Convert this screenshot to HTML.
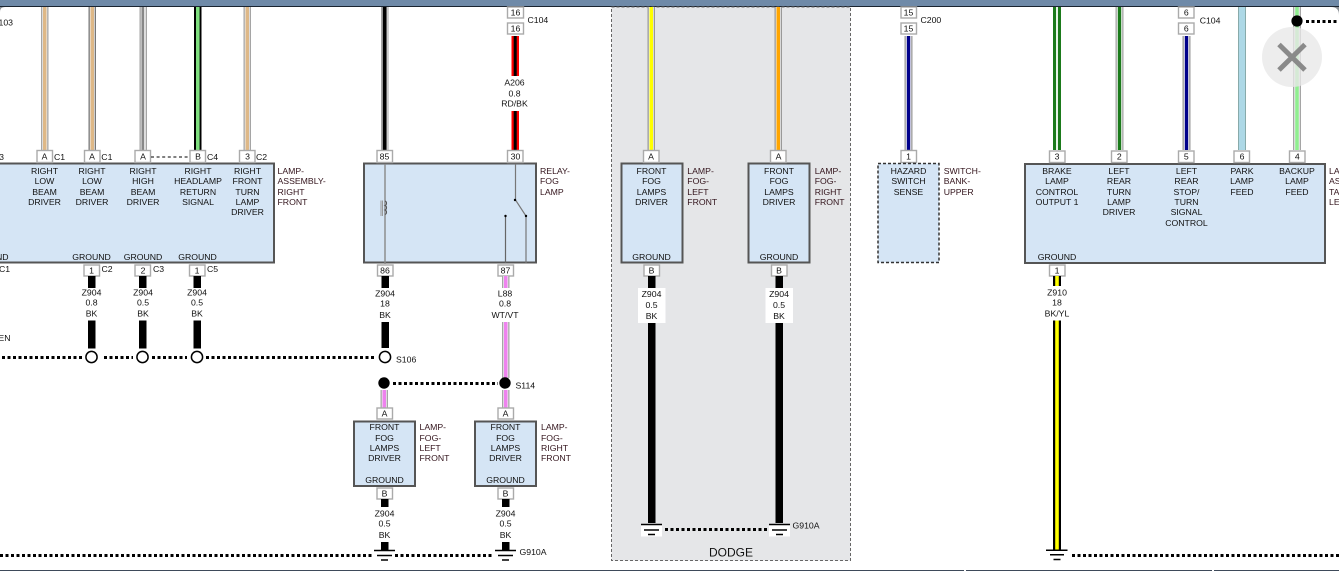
<!DOCTYPE html>
<html><head><meta charset="utf-8"><style>
html,body{margin:0;padding:0;background:#fff;width:1339px;height:571px;overflow:hidden}
svg{display:block}
text{font-family:"Liberation Sans",Arial,sans-serif;font-size:8.7px;fill:#111;text-anchor:middle}
.l{text-anchor:start}
.n{text-anchor:start;fill:#33141c}
.e{text-anchor:end}
.b{fill:#fff;stroke:#aaa;stroke-width:1.4}
.m{fill:#d5e5f5;stroke:#555;stroke-width:2}
.k{fill:#000}
.g{fill:#a5a5a5}
.w{fill:#f4f4f4}
.d{stroke:#000;stroke-width:3;stroke-dasharray:3 2.5;fill:none;shape-rendering:crispEdges}
.o{fill:#fff;stroke:#000;stroke-width:1.5}
</style></head><body>
<svg width="1339" height="571" viewBox="0 0 1339 571" xmlns="http://www.w3.org/2000/svg">
<rect x="0" y="0" width="1339" height="7" fill="#6f8aa8"/>
<rect x="0" y="6" width="1339" height="1" fill="#1a2430"/>
<path d="M0 7h5q-5 0-5 5zM1339 7h-8q8 0 8 8z" fill="#1a2430" opacity=".5"/>
<rect x="0" y="570" width="1339" height="1" fill="#3e4a5a"/>
<rect x="964" y="570" width="2" height="1" fill="#fff"/>
<rect x="1212" y="570" width="2" height="1" fill="#fff"/>

<!-- Dodge region -->
<rect x="611.5" y="7" width="239" height="553.5" fill="#e5e6e8" stroke="#666" stroke-width="1" stroke-dasharray="3 2"/>
<text x="731" y="556.5" style="font-size:12px">DODGE</text>

<!-- left wires -->
<rect x="41" y="7" width="7.5" height="143" class="g"/><rect x="42.3" y="7" width="4.9" height="143" class="w"/><rect x="43" y="7" width="3.5" height="143" fill="#deb887"/>
<rect x="88.5" y="7" width="7.5" height="143" fill="#777"/><rect x="89.8" y="7" width="4.9" height="143" class="w"/><rect x="90.5" y="7" width="3.5" height="143" fill="#deb887"/>
<rect x="139.5" y="7" width="7.5" height="143" class="g"/><rect x="140.8" y="7" width="4.9" height="143" class="w"/><rect x="141.5" y="7" width="2.7" height="143" fill="#888"/>
<rect x="194" y="7" width="7.5" height="143" class="k"/><rect x="196" y="7" width="3.6" height="143" fill="#7fdf7f"/>
<rect x="243.5" y="7" width="7.5" height="143" class="g"/><rect x="244.8" y="7" width="4.9" height="143" class="w"/><rect x="245.5" y="7" width="3.5" height="143" fill="#deb887"/>

<!-- left module -->
<rect x="-5" y="163.5" width="279" height="99" class="m"/>
<rect x="37" y="150.5" width="15.5" height="12" class="b"/><text x="44.5" y="159.5">A</text><text x="54" y="160" class="l">C1</text>
<rect x="84.5" y="150.5" width="15.5" height="12" class="b"/><text x="92" y="159.5">A</text><text x="101.3" y="160" class="l">C1</text>
<rect x="135" y="150.5" width="15.5" height="12" class="b"/><text x="143" y="159.5">A</text>
<path d="M151 157H189" stroke="#000" stroke-dasharray="3 2.6" fill="none"/>
<rect x="190" y="150.5" width="15.5" height="12" class="b"/><text x="198" y="159.5">B</text><text x="207" y="160" class="l">C4</text>
<rect x="239.5" y="150.5" width="15.5" height="12" class="b"/><text x="247.5" y="159.5">3</text><text x="256" y="160" class="l">C2</text>
<text x="4" y="160" class="e">3</text>
<text x="13" y="25.5" class="e">103</text>
<text x="44.5" y="174">RIGHT</text><text x="44.5" y="184">LOW</text><text x="44.5" y="195">BEAM</text><text x="44.5" y="205">DRIVER</text>
<text x="92" y="174">RIGHT</text><text x="92" y="184">LOW</text><text x="92" y="195">BEAM</text><text x="92" y="205">DRIVER</text>
<text x="143" y="174">RIGHT</text><text x="143" y="184">HIGH</text><text x="143" y="195">BEAM</text><text x="143" y="205">DRIVER</text>
<text x="198" y="174">RIGHT</text><text x="198" y="184">HEADLAMP</text><text x="198" y="195">RETURN</text><text x="198" y="205">SIGNAL</text>
<text x="247.5" y="174">RIGHT</text><text x="247.5" y="184">FRONT</text><text x="247.5" y="195">TURN</text><text x="247.5" y="205">LAMP</text><text x="247.5" y="215">DRIVER</text>
<text x="277.5" y="174" class="n">LAMP-</text><text x="277.5" y="184" class="n">ASSEMBLY-</text><text x="277.5" y="195" class="n">RIGHT</text><text x="277.5" y="205" class="n">FRONT</text>
<text x="8.5" y="260" class="e">ND</text><text x="91.5" y="260">GROUND</text><text x="143" y="260">GROUND</text><text x="197.5" y="260">GROUND</text>
<text x="-1" y="272" class="l">C1</text>
<rect x="84" y="265" width="15.5" height="11" class="b"/><text x="91.5" y="273.5">1</text><text x="101.5" y="272" class="l">C2</text>
<rect x="135" y="265" width="15.5" height="11" class="b"/><text x="143" y="273.5">2</text><text x="153" y="272" class="l">C3</text>
<rect x="189.5" y="265" width="15.5" height="11" class="b"/><text x="197" y="273.5">1</text><text x="207" y="272" class="l">C5</text>
<rect x="88" y="276" width="7.5" height="12" class="k"/><rect x="139" y="276" width="7.5" height="12" class="k"/><rect x="193.5" y="276" width="7.5" height="12" class="k"/>
<text x="91.5" y="295.5">Z904</text><text x="91.5" y="305.5">0.8</text><text x="91.5" y="316.5">BK</text>
<text x="143" y="295.5">Z904</text><text x="143" y="305.5">0.5</text><text x="143" y="316.5">BK</text>
<text x="197" y="295.5">Z904</text><text x="197" y="305.5">0.5</text><text x="197" y="316.5">BK</text>
<rect x="88" y="320.5" width="7.5" height="28" class="k"/><rect x="139" y="320.5" width="7.5" height="28" class="k"/><rect x="193.5" y="320.5" width="7.5" height="28" class="k"/>
<text x="10.5" y="341" class="e">EN</text>
<path d="M2 357.5H82M104 357.5H133M152 357.5H187M206 357.5H376" class="d"/>
<circle cx="91.5" cy="357" r="5.6" class="o"/><circle cx="142.5" cy="357" r="5.6" class="o"/><circle cx="197" cy="357" r="5.6" class="o"/><circle cx="385" cy="357" r="5.6" class="o"/>
<text x="396" y="362.5" class="l">S106</text>
<path d="M0 555.5H372M395 555.5H494" class="d"/>

<!-- relay -->
<rect x="381" y="7" width="7.5" height="143" class="g"/><rect x="382" y="7" width="5.5" height="143" class="w"/><rect x="382.6" y="7" width="4" height="143" class="k"/>
<rect x="511.5" y="36" width="7.5" height="40" fill="#f00"/><rect x="513.7" y="36" width="3" height="40" class="k"/>
<rect x="511.5" y="111" width="7.5" height="39" fill="#f00"/><rect x="513.7" y="111" width="3" height="39" class="k"/>
<rect x="507.5" y="7" width="16" height="11" class="b"/><text x="515.5" y="15.5">16</text>
<rect x="507.5" y="23" width="16" height="11" class="b"/><text x="515.5" y="31.5">16</text>
<text x="527.5" y="23" class="l">C104</text>
<text x="514.5" y="85.5">A206</text><text x="514.5" y="96.5">0.8</text><text x="514.5" y="106.5">RD/BK</text>
<rect x="364" y="163.5" width="172" height="99" class="m"/>
<rect x="377" y="150.5" width="15.5" height="12" class="b"/><text x="384.5" y="159.5">85</text>
<rect x="507.5" y="150.5" width="15.5" height="12" class="b"/><text x="515.5" y="159.5">30</text>
<rect x="377.5" y="265" width="15.5" height="11" class="b"/><text x="385" y="273.5">86</text>
<rect x="498" y="265" width="15.5" height="11" class="b"/><text x="505.5" y="273.5">87</text>
<path d="M385 164V264" stroke="#888" stroke-width="1.4" fill="none"/>
<path d="M381 200.5V216M382.5 200.5V216" stroke="#999" fill="none"/>
<path d="M385 201a2.4 2.4 0 0 1 0 4.5a2.4 2.4 0 0 1 0 4.5a2.4 2.4 0 0 1 0 4.5" stroke="#555" fill="none"/>
<path d="M515.5 164V200L526 216V263" stroke="#777" stroke-width="1.2" fill="none"/>
<path d="M505.5 216V263" stroke="#666" stroke-width="1.2" fill="none"/>
<circle cx="515" cy="200" r="1.2" class="k"/><circle cx="526" cy="216" r="1.2" class="k"/><circle cx="505.5" cy="216" r="1.2" class="k"/>
<text x="540" y="174" class="n">RELAY-</text><text x="540" y="184" class="n">FOG</text><text x="540" y="195" class="n">LAMP</text>
<rect x="381.5" y="276" width="7.5" height="12" class="k"/>
<text x="385" y="296.5">Z904</text><text x="385" y="306.5">18</text><text x="385" y="318">BK</text>
<rect x="381.5" y="322" width="7.5" height="26" class="k"/>
<rect x="502" y="276" width="7.5" height="12" class="g"/><rect x="503.3" y="276" width="4.9" height="12" class="w"/><rect x="504" y="276" width="3.5" height="12" fill="#ee82ee"/>
<text x="505" y="296.5">L88</text><text x="505" y="306.5">0.8</text><text x="505" y="318">WT/VT</text>
<rect x="502" y="322" width="7.5" height="56" class="g"/><rect x="503.3" y="322" width="4.9" height="56" class="w"/><rect x="504" y="322" width="3.5" height="56" fill="#ee82ee"/>
<rect x="502" y="390" width="7.5" height="18" class="g"/><rect x="503.3" y="390" width="4.9" height="18" class="w"/><rect x="504" y="390" width="3.5" height="18" fill="#ee82ee"/>
<rect x="380.5" y="390" width="7.5" height="18" class="g"/><rect x="381.8" y="390" width="4.9" height="18" class="w"/><rect x="382.5" y="390" width="3.5" height="18" fill="#ee82ee"/>
<path d="M393 383.5H498" class="d"/>
<circle cx="384" cy="383" r="5.7" class="k"/><circle cx="505" cy="383" r="5.7" class="k"/>
<text x="515.5" y="388.5" class="l">S114</text>

<!-- lower fog modules -->
<rect x="354" y="421.5" width="61" height="64.5" class="m"/>
<rect x="475" y="421.5" width="61" height="64.5" class="m"/>
<rect x="377" y="408" width="15.5" height="11" class="b"/><text x="384.5" y="416.5">A</text>
<rect x="498" y="408" width="15.5" height="11" class="b"/><text x="505.5" y="416.5">A</text>
<text x="384.5" y="430">FRONT</text><text x="384.5" y="441">FOG</text><text x="384.5" y="451">LAMPS</text><text x="384.5" y="461">DRIVER</text><text x="384.5" y="483">GROUND</text>
<text x="505.5" y="430">FRONT</text><text x="505.5" y="441">FOG</text><text x="505.5" y="451">LAMPS</text><text x="505.5" y="461">DRIVER</text><text x="505.5" y="483">GROUND</text>
<text x="419.5" y="430" class="n">LAMP-</text><text x="419.5" y="441" class="n">FOG-</text><text x="419.5" y="451" class="n">LEFT</text><text x="419.5" y="461" class="n">FRONT</text>
<text x="541" y="430" class="n">LAMP-</text><text x="541" y="441" class="n">FOG-</text><text x="541" y="451" class="n">RIGHT</text><text x="541" y="461" class="n">FRONT</text>
<rect x="377" y="488" width="15.5" height="11" class="b"/><text x="384.5" y="496.5">B</text>
<rect x="498" y="488" width="15.5" height="11" class="b"/><text x="505.5" y="496.5">B</text>
<rect x="381" y="499" width="7.5" height="8" class="k"/><rect x="502" y="499" width="7.5" height="8" class="k"/>
<text x="384.5" y="516.5">Z904</text><text x="384.5" y="526.5">0.5</text><text x="384.5" y="538">BK</text>
<text x="505.5" y="516.5">Z904</text><text x="505.5" y="526.5">0.5</text><text x="505.5" y="538">BK</text>
<rect x="381" y="542" width="7.5" height="8" class="k"/><rect x="502" y="542" width="7.5" height="8" class="k"/>
<path d="M374 550.5H395M377 555.5H392M381 560H388M495 550.5H516M498 555.5H513M502 560H509" stroke="#000" stroke-width="1.5" fill="none"/>
<text x="519.5" y="555" class="l">G910A</text>

<!-- Dodge fog -->
<rect x="647.5" y="7" width="7.5" height="143" fill="#999"/><rect x="648.8" y="7" width="4.9" height="143" class="w"/><rect x="649.5" y="7" width="3.5" height="143" fill="#ff0"/>
<rect x="774.5" y="7" width="7.5" height="143" fill="#999"/><rect x="775.8" y="7" width="4.9" height="143" class="w"/><rect x="776.5" y="7" width="3.5" height="143" fill="#ffa500"/>
<rect x="621.5" y="163.5" width="61" height="99" class="m"/>
<rect x="748.5" y="163.5" width="61" height="99" class="m"/>
<rect x="643.5" y="150.5" width="15.5" height="12" class="b"/><text x="651" y="159.5">A</text>
<rect x="770.5" y="150.5" width="15.5" height="12" class="b"/><text x="778.5" y="159.5">A</text>
<text x="651.5" y="174">FRONT</text><text x="651.5" y="184">FOG</text><text x="651.5" y="195">LAMPS</text><text x="651.5" y="205">DRIVER</text><text x="651.5" y="260">GROUND</text>
<text x="779" y="174">FRONT</text><text x="779" y="184">FOG</text><text x="779" y="195">LAMPS</text><text x="779" y="205">DRIVER</text><text x="779" y="260">GROUND</text>
<text x="687.3" y="174" class="n">LAMP-</text><text x="687.3" y="184" class="n">FOG-</text><text x="687.3" y="195" class="n">LEFT</text><text x="687.3" y="205" class="n">FRONT</text>
<text x="814.7" y="174" class="n">LAMP-</text><text x="814.7" y="184" class="n">FOG-</text><text x="814.7" y="195" class="n">RIGHT</text><text x="814.7" y="205" class="n">FRONT</text>
<rect x="644" y="265" width="15.5" height="11" class="b"/><text x="651.5" y="273.5">B</text>
<rect x="771.5" y="265" width="15.5" height="11" class="b"/><text x="779" y="273.5">B</text>
<rect x="648" y="276" width="7.5" height="247" class="k"/><rect x="775.5" y="276" width="7.5" height="247" class="k"/>
<rect x="638" y="288" width="27.5" height="35" fill="#fff"/><rect x="765.5" y="288" width="27.5" height="35" fill="#fff"/>
<text x="651.5" y="297">Z904</text><text x="651.5" y="308">0.5</text><text x="651.5" y="319">BK</text>
<text x="779" y="297">Z904</text><text x="779" y="308">0.5</text><text x="779" y="319">BK</text>
<rect x="641" y="524" width="21" height="12.5" fill="#fff"/><rect x="769" y="524" width="21" height="12.5" fill="#fff"/>
<path d="M641 524.5H662M644 530H659M648 534.5H655M769 524.5H790M772 530H787M776 534.5H783" stroke="#000" stroke-width="1.5" fill="none"/>
<path d="M665 529.5H769" class="d"/>
<text x="792.5" y="528.5" class="l">G910A</text>

<!-- hazard -->
<rect x="904.5" y="36" width="8" height="114" fill="#999"/><rect x="905.8" y="36" width="5.4" height="114" class="w"/><rect x="906.8" y="36" width="3.4" height="114" fill="#00008b"/>
<rect x="901" y="7" width="15.5" height="11" class="b"/><text x="908.5" y="15.5">15</text>
<rect x="901" y="23" width="15.5" height="11" class="b"/><text x="908.5" y="31.5">15</text>
<text x="920.5" y="23" class="l">C200</text>
<rect x="901" y="150.5" width="15.5" height="12" class="b"/><text x="908.5" y="159.5">1</text>
<rect x="878" y="163.5" width="61" height="99" fill="#d5e5f5" stroke="#333" stroke-width="1.5" stroke-dasharray="3 2"/>
<text x="908.5" y="174">HAZARD</text><text x="908.5" y="184">SWITCH</text><text x="908.5" y="195">SENSE</text>
<text x="943.7" y="174" class="n">SWITCH-</text><text x="943.7" y="184" class="n">BANK-</text><text x="943.7" y="195" class="n">UPPER</text>

<!-- right wires -->
<rect x="1053" y="7" width="8" height="143" fill="#1b7a1b"/><rect x="1056" y="7" width="2" height="143" fill="#e8f4e8"/>
<rect x="1115.5" y="7" width="8" height="143" class="g"/><rect x="1116.8" y="7" width="5.4" height="143" class="w"/><rect x="1117.8" y="7" width="3.4" height="143" fill="#1b7a1b"/>
<rect x="1182.5" y="36" width="8" height="114" fill="#999"/><rect x="1183.8" y="36" width="5.4" height="114" class="w"/><rect x="1184.8" y="36" width="3.4" height="114" fill="#00008b"/>
<rect x="1238" y="7" width="8" height="143" fill="#add8e6"/><rect x="1238" y="7" width="1" height="143" fill="#8aa"/><rect x="1245" y="7" width="1" height="143" fill="#8aa"/>
<rect x="1293" y="7" width="8" height="143" class="g"/><rect x="1294.3" y="7" width="5.4" height="143" class="w"/><rect x="1295.2" y="7" width="3.6" height="143" fill="#90ee90"/>
<rect x="1178.5" y="7" width="15.5" height="11" class="b"/><text x="1186.3" y="15.5">6</text>
<rect x="1178.5" y="23" width="15.5" height="11" class="b"/><text x="1186.3" y="31.5">6</text>
<text x="1199.7" y="23.5" class="l">C104</text>
<circle cx="1297" cy="21" r="5.6" class="k"/>
<path d="M1306 21.5H1339" class="d"/>
<rect x="1025" y="164" width="300" height="99" class="m"/>
<rect x="1049.5" y="151" width="15.5" height="11.5" class="b"/><text x="1057" y="159.5">3</text>
<rect x="1111.5" y="151" width="15.5" height="11.5" class="b"/><text x="1119.3" y="159.5">2</text>
<rect x="1178.5" y="151" width="15.5" height="11.5" class="b"/><text x="1186.3" y="159.5">5</text>
<rect x="1234" y="151" width="15.5" height="11.5" class="b"/><text x="1242" y="159.5">6</text>
<rect x="1289.5" y="151" width="15.5" height="11.5" class="b"/><text x="1297.3" y="159.5">4</text>
<text x="1057" y="174">BRAKE</text><text x="1057" y="184">LAMP</text><text x="1057" y="195">CONTROL</text><text x="1057" y="205">OUTPUT 1</text><text x="1057" y="260">GROUND</text>
<text x="1119" y="174">LEFT</text><text x="1119" y="184">REAR</text><text x="1119" y="195">TURN</text><text x="1119" y="205">LAMP</text><text x="1119" y="215">DRIVER</text>
<text x="1186.5" y="174">LEFT</text><text x="1186.5" y="184">REAR</text><text x="1186.5" y="195">STOP/</text><text x="1186.5" y="205">TURN</text><text x="1186.5" y="215">SIGNAL</text><text x="1186.5" y="226">CONTROL</text>
<text x="1242" y="174">PARK</text><text x="1242" y="184">LAMP</text><text x="1242" y="195">FEED</text>
<text x="1297" y="174">BACKUP</text><text x="1297" y="184">LAMP</text><text x="1297" y="195">FEED</text>
<text x="1329" y="174" class="n">LAMP-</text><text x="1329" y="184" class="n">ASSEMBLY-</text><text x="1329" y="195" class="n">TAIL-</text><text x="1329" y="205" class="n">LEFT</text>
<rect x="1049.5" y="265" width="15.5" height="11" class="b"/><text x="1057" y="273.5">1</text>
<rect x="1053" y="276" width="8" height="10" class="k"/><rect x="1055.2" y="276" width="3.6" height="10" fill="#ff0"/>
<text x="1057" y="295.5">Z910</text><text x="1057" y="305.5">18</text><text x="1057" y="316.5">BK/YL</text>
<rect x="1053" y="320.5" width="8" height="229" class="k"/><rect x="1055.2" y="320.5" width="3.6" height="229" fill="#ff0"/>
<path d="M1046 550.3H1067.5M1050 554.7H1064M1053.5 559.5H1060.5" stroke="#000" stroke-width="1.5" fill="none"/>
<path d="M1072 555.5H1339" class="d"/>

<!-- close button -->
<circle cx="1292" cy="57" r="30" fill="#e8e8e8" fill-opacity=".78"/>
<path d="M1279 44.5L1305 70M1305 44.5L1279 70" stroke="#8a8a8a" stroke-width="5" fill="none"/>
</svg>
</body></html>
